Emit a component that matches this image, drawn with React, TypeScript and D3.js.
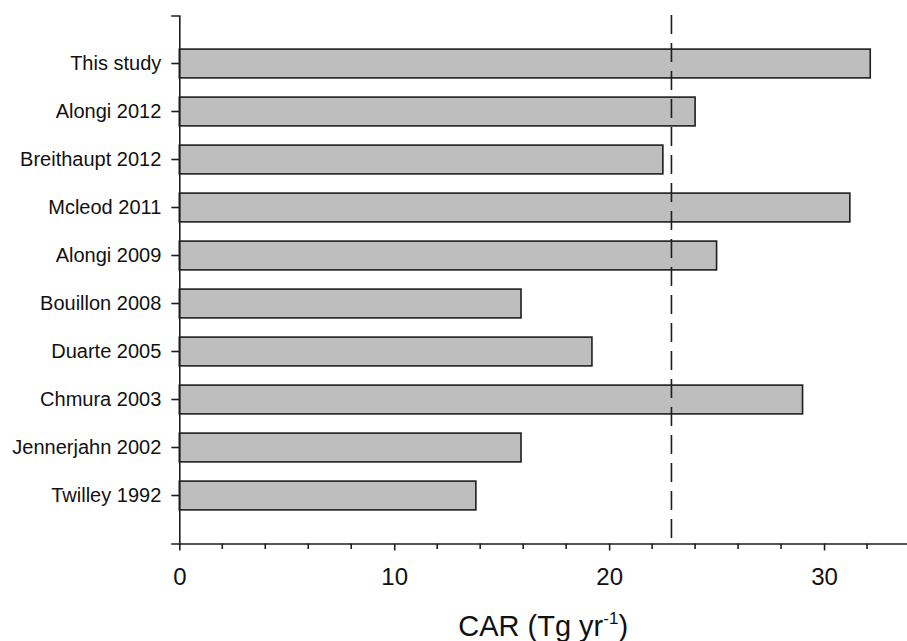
import React, { useEffect, useRef } from "react";
import * as d3 from "d3";

const studies = [
  "This study",
  "Alongi 2012",
  "Breithaupt 2012",
  "Mcleod 2011",
  "Alongi 2009",
  "Bouillon 2008",
  "Duarte 2005",
  "Chmura 2003",
  "Jennerjahn 2002",
  "Twilley 1992",
];
const carValues = [32.15, 24.0, 22.5, 31.2, 25.0, 15.9, 19.2, 29.0, 15.9, 13.8];
const meanLine = 22.9;
const xTicks = [0, 10, 20, 30];
const xMinorTicks = [2, 4, 6, 8, 12, 14, 16, 18, 22, 24, 26, 28, 32];

export default function App() {
  const ref = useRef<SVGSVGElement>(null);

  useEffect(() => {
    const svg = d3.select(ref.current);
    svg.selectAll("*").remove();

    const data = studies.map((s, i) => ({ study: s, value: carValues[i] }));

    const x = d3.scaleLinear().domain([0, 33.86]).range([179.3, 907]);
    const y = d3
      .scaleBand()
      .domain(studies)
      .range([15.5, 543.5])
      .paddingInner(0.4)
      .paddingOuter(0.7);

    const font = "'Liberation Sans', Arial, sans-serif";

    // bars
    svg
      .append("g")
      .selectAll("rect")
      .data(data)
      .join("rect")
      .attr("x", x(0))
      .attr("y", (d) => y(d.study)!)
      .attr("width", (d) => x(d.value) - x(0))
      .attr("height", y.bandwidth())
      .attr("fill", "#bebebe")
      .attr("stroke", "#1e1e1e")
      .attr("stroke-width", 1.6);

    // dashed reference line
    svg
      .append("line")
      .attr("x1", x(meanLine))
      .attr("x2", x(meanLine))
      .attr("y1", 15)
      .attr("y2", 543.5)
      .attr("stroke", "#1e1e1e")
      .attr("stroke-width", 1.6)
      .attr("stroke-dasharray", "19 9");

    // y axis
    const yAxis = svg
      .append("g")
      .attr("transform", `translate(${x(0)},0)`)
      .call(d3.axisLeft(y).tickSize(8).tickSizeOuter(8).tickPadding(10));
    yAxis.selectAll("path, line").attr("stroke", "#1e1e1e").attr("stroke-width", 1.6);
    yAxis
      .selectAll("text")
      .attr("font-family", font)
      .attr("font-size", 20)
      .attr("fill", "#111");

    // x axis
    const xAxis = svg
      .append("g")
      .attr("transform", "translate(0,543.5)")
      .call(
        d3
          .axisBottom(x)
          .tickValues(xTicks)
          .tickSize(7)
          .tickSizeOuter(0)
          .tickPadding(17)
          .tickFormat(d3.format("d"))
      );
    xAxis.selectAll("path, line").attr("stroke", "#1e1e1e").attr("stroke-width", 1.6);
    xAxis
      .selectAll("text")
      .attr("font-family", font)
      .attr("font-size", 24)
      .attr("fill", "#111");

    // minor ticks
    svg
      .append("g")
      .selectAll("line")
      .data(xMinorTicks)
      .join("line")
      .attr("x1", (d) => x(d))
      .attr("x2", (d) => x(d))
      .attr("y1", 543.5)
      .attr("y2", 549)
      .attr("stroke", "#1e1e1e")
      .attr("stroke-width", 1.6);

    // x axis title
    const title = svg
      .append("text")
      .attr("x", (x.range()[0] + x.range()[1]) / 2)
      .attr("y", 636)
      .attr("text-anchor", "middle")
      .attr("font-family", font)
      .attr("font-size", 29)
      .attr("fill", "#111");
    title.append("tspan").text("CAR (Tg yr");
    title.append("tspan").attr("font-size", 17).attr("dy", -12).text("-1");
    title.append("tspan").attr("dy", 12).text(")");
  }, []);

  return (
    <svg
      ref={ref}
      width={907}
      height={641}
      style={{ position: "absolute", left: 0, top: 0, background: "#fff" }}
    />
  );
}
